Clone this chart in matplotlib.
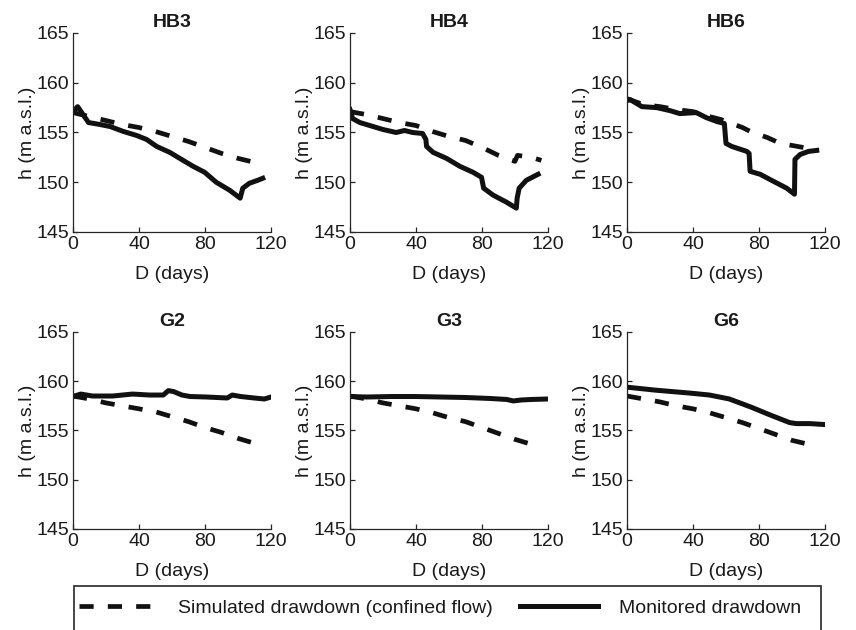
import matplotlib
matplotlib.use("Agg")
from matplotlib import pyplot as plt
from matplotlib.lines import Line2D
from matplotlib.patches import Rectangle

plt.rcParams['font.family'] = ['Liberation Sans', 'DejaVu Sans']

# well names, top row then bottom row
wells = ["HB3", "HB4", "HB6", "G2", "G3", "G6"]

# simulated drawdown (confined flow): days / head (m a.s.l.)
sim_days = {
    "HB3": [0, 10, 20, 30, 40, 50, 60, 70, 80, 90, 100, 110, 115],
    "HB4": [0, 10, 20, 30, 40, 50, 60, 70, 80, 90, 98, 100, 101.5, 106, 110, 116],
    "HB6": [0, 10, 20, 30, 40, 50, 57, 70, 76, 85, 93, 100, 110],
    "G2": [0, 10, 20, 30, 40, 50, 60, 70, 80, 90, 100, 110, 115],
    "G3": [0, 10, 20, 30, 40, 50, 60, 70, 80, 90, 100, 110, 115],
    "G6": [0, 10, 20, 30, 40, 50, 60, 70, 80, 90, 100, 110, 115],
}
sim_head = {
    "HB3": [157.0, 156.6, 156.2, 155.8, 155.5, 155.1, 154.6, 154.1, 153.5, 152.9, 152.4, 152.0, 151.8],
    "HB4": [157.1, 156.8, 156.4, 156.0, 155.7, 155.1, 154.6, 154.2, 153.5, 152.7, 152.2, 152.1, 152.7, 152.6, 152.5, 152.2],
    "HB6": [158.4, 157.8, 157.6, 157.3, 157.1, 156.6, 156.3, 155.5, 155.0, 154.5, 153.9, 153.7, 153.4],
    "G2": [158.5, 158.2, 157.8, 157.5, 157.2, 156.9, 156.4, 155.9, 155.3, 154.8, 154.2, 153.7, 153.5],
    "G3": [158.5, 158.2, 157.8, 157.5, 157.2, 156.8, 156.3, 155.9, 155.3, 154.7, 154.1, 153.6, 153.4],
    "G6": [158.5, 158.2, 157.9, 157.5, 157.2, 156.8, 156.3, 155.8, 155.2, 154.6, 154.0, 153.6, 153.4],
}

# monitored drawdown
mon_days = {
    "HB3": [0, 2.8, 9.4, 16.5, 22.5, 30.6, 38.6, 44.6, 50.7, 58.7, 64.7, 72.8, 79.8, 86.8, 94.9,
            100.5, 101.3, 102.9, 106.9, 112, 115],
    "HB4": [0, 1.6, 6, 12, 20, 28, 33, 38, 44, 46, 46.4, 50.4, 58.5, 66.6, 74.6, 79.7, 81,
            86.8, 94.8, 100.8, 101.3, 102.5, 106.9, 114],
    "HB6": [0, 2, 9, 18, 26, 32, 42, 48, 54.5, 59, 60, 63.5, 72.6, 74, 74.6, 80.7, 88.7, 96.8,
            101.5, 101.8, 105, 110, 115],
    "G2": [0, 4.7, 11.8, 24, 36, 46.5, 54.7, 57.8, 61, 66, 71, 81, 93.5, 96.5, 101.6, 109.8, 116, 120],
    "G3": [0, 10, 25, 40, 55, 70, 85, 95, 99, 104, 110, 120],
    "G6": [0, 17, 38, 50, 62, 74.8, 86.4, 98.6, 102.7, 111, 120],
}
mon_head = {
    "HB3": [157.1, 157.6, 156.0, 155.8, 155.6, 155.1, 154.7, 154.3, 153.6, 153.0, 152.4, 151.6,
            151.0, 150.0, 149.2, 148.5, 148.4, 149.4, 149.9, 150.2, 150.4],
    "HB4": [157.3, 156.4, 156.0, 155.7, 155.3, 155.0, 155.2, 155.0, 154.9, 154.3, 153.6, 153.0,
            152.4, 151.6, 151.0, 150.5, 149.4, 148.7, 148.0, 147.4, 148.4, 149.4, 150.2, 150.8],
    "HB6": [158.2, 158.3, 157.6, 157.5, 157.2, 156.9, 157.0, 156.5, 156.1, 155.9, 153.9, 153.6,
            153.1, 152.9, 151.1, 150.8, 150.1, 149.4, 148.8, 152.3, 152.8, 153.1, 153.2],
    "G2": [158.45, 158.7, 158.5, 158.5, 158.7, 158.6, 158.6, 159.05, 158.95, 158.6, 158.45, 158.4,
           158.3, 158.6, 158.45, 158.3, 158.2, 158.4],
    "G3": [158.45, 158.4, 158.45, 158.45, 158.4, 158.35, 158.25, 158.15, 158.0, 158.1, 158.15, 158.2],
    "G6": [159.4, 159.1, 158.8, 158.6, 158.2, 157.4, 156.6, 155.8, 155.7, 155.7, 155.6],
}

x_ticks = [0, 40, 80, 120]
y_ticks = [145, 150, 155, 160, 165]

W, H = 856, 630
fig = plt.figure(figsize=(W / 100, H / 100), dpi=100)

# panel boxes in pixels: left, top, width, height
lefts = [73, 350, 627]
tops = [33, 332]
heights = [199, 197]
width = 198

dash_style = (3, 3)
ink = "#111111"

for i, well in enumerate(wells):
    row, col = divmod(i, 3)
    ax = fig.add_axes([lefts[col] / W, 1 - (tops[row] + heights[row]) / H,
                       width / W, heights[row] / H])
    ax.plot(sim_days[well], sim_head[well], color=ink, lw=3.4,
            linestyle=(0, dash_style), solid_capstyle="butt", dash_capstyle="butt")
    ax.plot(mon_days[well], mon_head[well], color=ink, lw=3.6, solid_joinstyle="round")

    ax.set_xlim(0, 120)
    ax.set_ylim(145, 165)
    ax.set_xticks(x_ticks)
    ax.set_yticks(y_ticks)
    ax.spines["top"].set_visible(False)
    ax.spines["right"].set_visible(False)
    for s in ("left", "bottom"):
        ax.spines[s].set_color("#262626")
        ax.spines[s].set_linewidth(0.9)
    ax.tick_params(direction="in", length=3.5, width=0.9, color="#262626",
                   labelsize=14, pad=3, labelcolor="#1a1a1a")
    ax.set_title(well, fontsize=14, fontweight="bold", pad=4, color="#1a1a1a")
    ax.set_xlabel("D (days)", fontsize=14, labelpad=9, color="#1a1a1a")
    ax.set_ylabel("h (m a.s.l.)", fontsize=14, labelpad=0, color="#1a1a1a")

# legend strip along the bottom (its lower edge runs off the figure)
box = Rectangle((74 / W, -0.05), (821 - 74) / W, (H - 586) / H + 0.05,
                transform=fig.transFigure, fill=False, edgecolor="#262626", lw=1.2)
fig.add_artist(box)

handles = [
    Line2D([], [], color=ink, lw=3.4, linestyle=(0, dash_style), dash_capstyle="butt"),
    Line2D([], [], color=ink, lw=3.6),
]
labels = ["Simulated drawdown (confined flow)", "Monitored drawdown"]
fig.legend(handles, labels, loc="center left", ncol=2, frameon=False,
           bbox_to_anchor=(79 / W, 1 - 608 / H), fontsize=14,
           handlelength=4.0, handletextpad=1.1, columnspacing=1.4,
           borderaxespad=0, borderpad=0, labelcolor="#1a1a1a")

fig.savefig("out.png", dpi=100)
